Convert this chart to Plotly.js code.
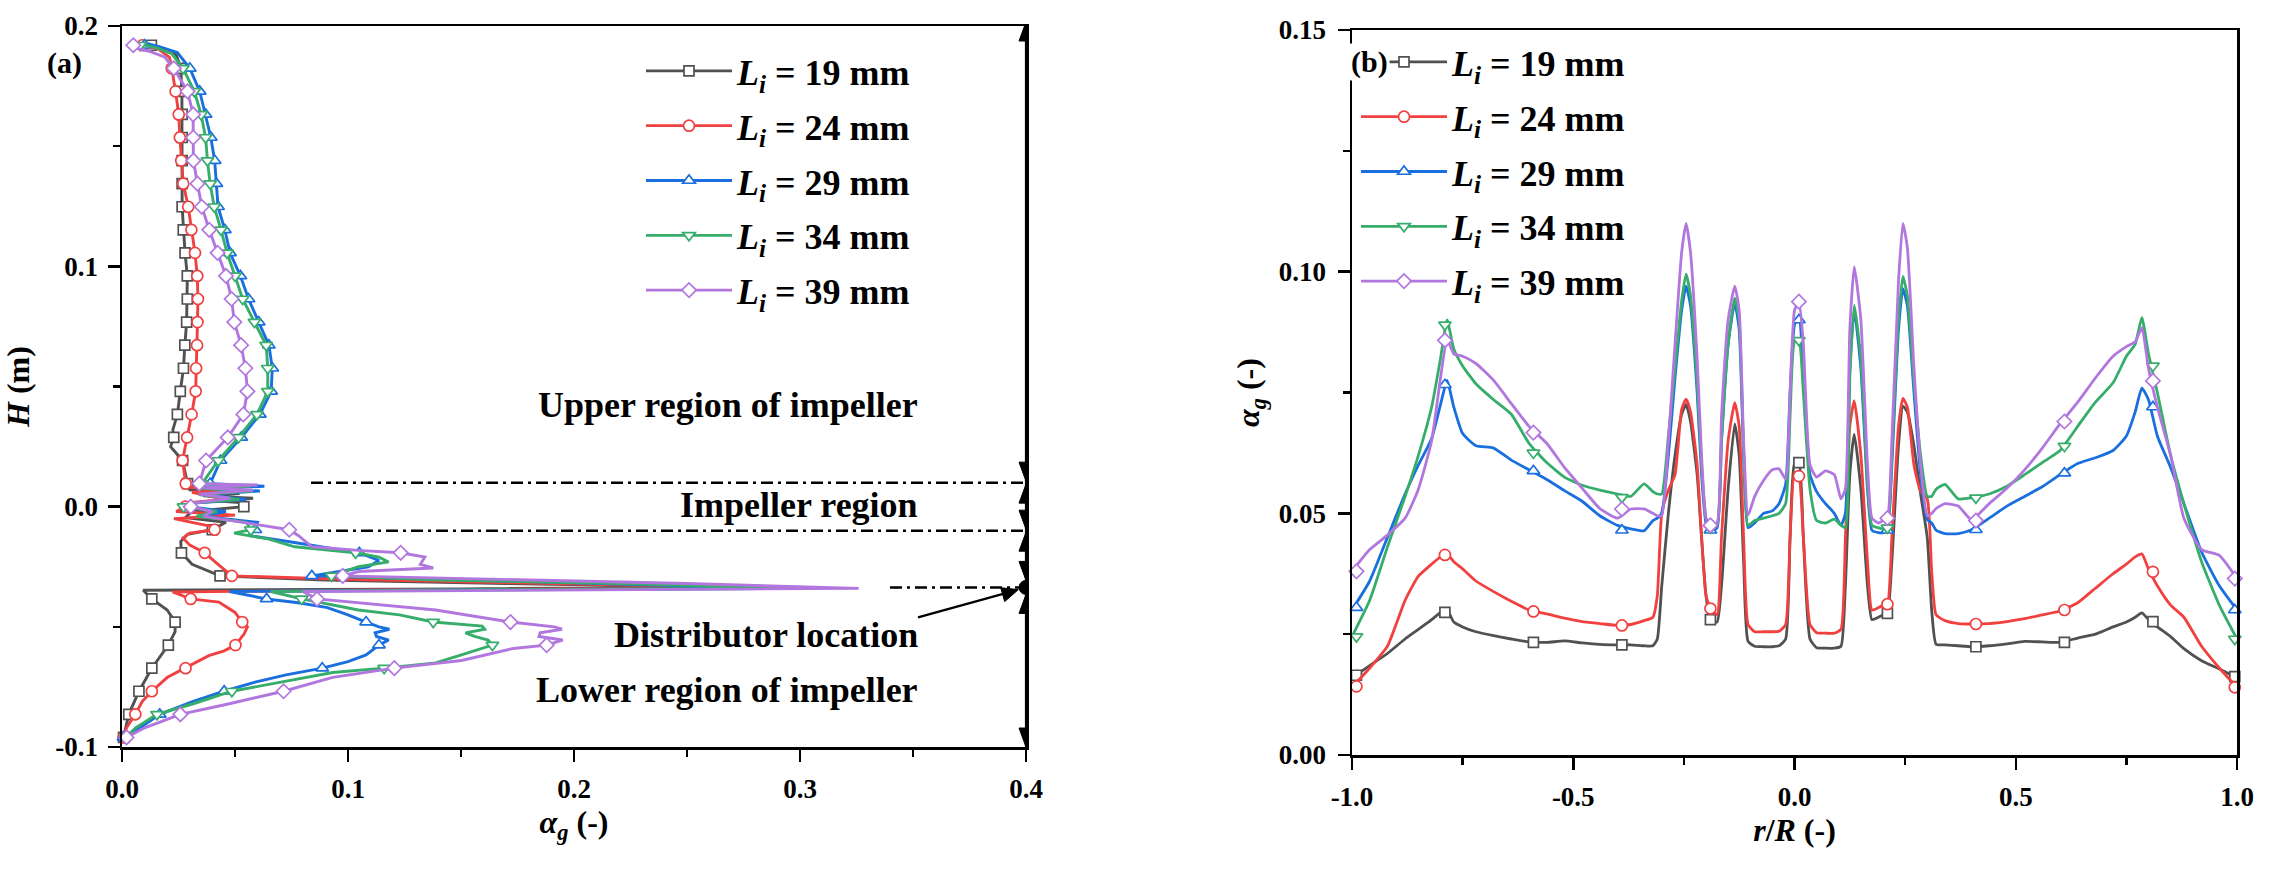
<!DOCTYPE html>
<html><head><meta charset="utf-8">
<script src="https://cdn.plot.ly/plotly-3.0.1.min.js"></script>
<style>html,body{margin:0;padding:0;background:#fff}#chart{width:2271px;height:872px}</style>
</head><body><div id="chart"></div>
<script>
// ---------- Panel (a): gas holdup profile along height ----------
const seriesNames = ['<i>L<sub>i</sub></i> = 19 mm','<i>L<sub>i</sub></i> = 24 mm','<i>L<sub>i</sub></i> = 29 mm','<i>L<sub>i</sub></i> = 34 mm','<i>L<sub>i</sub></i> = 39 mm'];

const H_grid = [0.192,0.1824,0.1728,0.1632,0.1536,0.144,0.1344,0.1248,0.1152,0.1056,0.096,0.0864,0.0768,0.0672,0.0576,0.048,0.0384,0.0288,0.0192,0.0096,0.0,-0.0096,-0.0192,-0.0288,-0.0384,-0.048,-0.0576,-0.0672,-0.0768,-0.0864,-0.096];

const a19_H = [0.192,0.1905,0.188,0.1824,0.1728,0.1632,0.1536,0.144,0.1344,0.1248,0.1152,0.1056,0.096,0.0864,0.0768,0.0672,0.0576,0.048,0.0384,0.032,0.0288,0.025,0.0192,0.0096,0.007,0.0055,0.0045,0.0035,0.0025,0.0015,0.0,-0.002,-0.0045,-0.0065,-0.0096,-0.0115,-0.0145,-0.0192,-0.024,-0.0288,-0.0305,-0.032,-0.0335,-0.0342,-0.0348,-0.0384,-0.043,-0.048,-0.052,-0.0576,-0.062,-0.0672,-0.0768,-0.0864,-0.096];
const a19_A = [0.013,0.019,0.024,0.026,0.0265,0.0266,0.0266,0.0266,0.0266,0.0266,0.0271,0.0279,0.0289,0.0289,0.0286,0.0278,0.0272,0.0258,0.0245,0.0225,0.0229,0.0215,0.0268,0.029,0.030,0.052,0.036,0.058,0.040,0.055,0.0539,0.031,0.028,0.046,0.040,0.029,0.026,0.0263,0.031,0.0434,0.09,0.17,0.27,0.15,0.0094,0.0132,0.020,0.0235,0.0235,0.0205,0.017,0.0132,0.0075,0.003,0.0007];

const a24_H = [0.192,0.1905,0.187,0.1824,0.1728,0.1632,0.1536,0.144,0.1344,0.1248,0.1152,0.1056,0.096,0.0864,0.0768,0.0672,0.0576,0.048,0.0384,0.0288,0.0192,0.0096,0.008,0.0072,0.006,0.003,0.0015,0.0,-0.002,-0.0035,-0.005,-0.0085,-0.0096,-0.011,-0.013,-0.016,-0.0192,-0.024,-0.0288,-0.030,-0.032,-0.0338,-0.0346,-0.0355,-0.0384,-0.0397,-0.044,-0.048,-0.050,-0.053,-0.0576,-0.060,-0.062,-0.0672,-0.071,-0.0768,-0.081,-0.0864,-0.092,-0.096];
const a24_A = [0.009,0.016,0.021,0.022,0.0237,0.0251,0.0256,0.0262,0.0271,0.0293,0.0307,0.0323,0.0333,0.0336,0.0334,0.0332,0.0328,0.0326,0.0308,0.0288,0.0268,0.0282,0.030,0.050,0.031,0.045,0.028,0.028,0.024,0.050,0.023,0.041,0.041,0.030,0.027,0.030,0.0366,0.0425,0.0486,0.09,0.19,0.28,0.12,0.0224,0.0304,0.0429,0.050,0.0532,0.0555,0.054,0.0502,0.0452,0.0384,0.0281,0.0201,0.0132,0.009,0.0059,0.002,0.0007];

const a29_H = [0.193,0.1915,0.189,0.1824,0.1728,0.1632,0.1536,0.144,0.1344,0.1248,0.1152,0.1056,0.096,0.0864,0.0768,0.0672,0.0576,0.048,0.0384,0.0288,0.0192,0.0096,0.0085,0.0075,0.0065,0.005,0.003,0.0015,0.0,-0.002,-0.004,-0.0065,-0.0096,-0.012,-0.015,-0.0192,-0.0224,-0.025,-0.0288,-0.030,-0.032,-0.034,-0.0346,-0.0353,-0.0384,-0.040,-0.042,-0.045,-0.048,-0.050,-0.051,-0.0525,-0.054,-0.0555,-0.0576,-0.0617,-0.0645,-0.0672,-0.070,-0.073,-0.0768,-0.081,-0.0864,-0.093,-0.096];
const a29_A = [0.010,0.016,0.0245,0.030,0.0344,0.037,0.0393,0.041,0.0418,0.0425,0.0455,0.0478,0.0524,0.056,0.0605,0.065,0.0665,0.066,0.061,0.0528,0.0436,0.039,0.063,0.038,0.061,0.035,0.055,0.032,0.030,0.046,0.035,0.060,0.059,0.056,0.077,0.105,0.1137,0.109,0.084,0.13,0.21,0.29,0.15,0.0475,0.064,0.078,0.0909,0.100,0.108,0.1137,0.1183,0.112,0.1126,0.118,0.1137,0.108,0.100,0.0886,0.0726,0.0589,0.0452,0.0315,0.0167,0.0064,0.0007];

const a34_H = [0.1925,0.191,0.1885,0.1824,0.1728,0.1632,0.1536,0.144,0.1344,0.1248,0.1152,0.1056,0.096,0.0864,0.0768,0.0672,0.0576,0.048,0.0384,0.0288,0.0192,0.0096,0.0085,0.0075,0.0065,0.005,0.003,0.0015,0.0,-0.002,-0.004,-0.0065,-0.0096,-0.011,-0.0135,-0.0167,-0.0192,-0.021,-0.023,-0.025,-0.0288,-0.0305,-0.032,-0.034,-0.0346,-0.0353,-0.0384,-0.043,-0.045,-0.048,-0.0497,-0.051,-0.0525,-0.054,-0.0555,-0.0576,-0.0617,-0.065,-0.0672,-0.069,-0.073,-0.0768,-0.082,-0.0864,-0.092,-0.096];
const a34_A = [0.008,0.015,0.022,0.027,0.032,0.035,0.037,0.0378,0.039,0.0408,0.0438,0.0465,0.050,0.0534,0.0586,0.0638,0.0645,0.0645,0.0597,0.0516,0.0426,0.0354,0.057,0.036,0.058,0.034,0.052,0.030,0.0272,0.042,0.033,0.055,0.057,0.0496,0.065,0.0764,0.1034,0.1137,0.118,0.1046,0.0927,0.14,0.22,0.30,0.16,0.0658,0.0795,0.1046,0.1228,0.1377,0.1594,0.1605,0.152,0.156,0.162,0.1639,0.1502,0.1388,0.116,0.0932,0.0703,0.0486,0.0315,0.0155,0.006,0.0018];

const a39_H = [0.191,0.1895,0.187,0.1824,0.1728,0.1632,0.1536,0.144,0.1344,0.1248,0.1152,0.1056,0.096,0.0864,0.0768,0.0672,0.0576,0.048,0.0384,0.0288,0.0192,0.0096,0.009,0.0078,0.0068,0.0052,0.0035,0.0015,0.0,-0.002,-0.004,-0.006,-0.0096,-0.012,-0.0167,-0.0183,-0.0192,-0.021,-0.024,-0.0255,-0.027,-0.0288,-0.030,-0.031,-0.032,-0.034,-0.0346,-0.0353,-0.0384,-0.0404,-0.043,-0.048,-0.050,-0.051,-0.0525,-0.054,-0.0555,-0.0576,-0.059,-0.064,-0.0672,-0.071,-0.0768,-0.082,-0.0864,-0.092,-0.096];
const a39_A = [0.005,0.012,0.019,0.0229,0.029,0.0315,0.0315,0.0316,0.0334,0.0353,0.0386,0.0423,0.046,0.0485,0.0497,0.0527,0.0546,0.0555,0.0537,0.0468,0.0372,0.0342,0.060,0.036,0.058,0.034,0.048,0.032,0.0304,0.040,0.036,0.050,0.074,0.078,0.084,0.106,0.1233,0.134,0.132,0.1377,0.1046,0.0977,0.155,0.19,0.25,0.326,0.20,0.080,0.0863,0.1091,0.1388,0.1719,0.1913,0.1947,0.185,0.1845,0.195,0.1879,0.1731,0.1502,0.1205,0.0932,0.0715,0.0475,0.0258,0.010,0.002];

// values at the symbol positions (H_grid)
const a19_mk = [0.013,0.026,0.0265,0.0266,0.0266,0.0266,0.0266,0.0266,0.0271,0.0279,0.0289,0.0289,0.0286,0.0278,0.0272,0.0258,0.0245,0.0229,0.0268,0.029,0.0539,0.040,0.0263,0.0434,0.0132,0.0235,0.0205,0.0132,0.0075,0.003,0.0007];
const a24_mk = [0.009,0.022,0.0237,0.0251,0.0256,0.0262,0.0271,0.0293,0.0307,0.0323,0.0333,0.0336,0.0334,0.0332,0.0328,0.0326,0.0308,0.0288,0.0268,0.0282,0.028,0.041,0.0366,0.0486,0.0304,0.0532,0.0502,0.0281,0.0132,0.0059,0.0007];
const a29_mk = [0.010,0.030,0.0344,0.037,0.0393,0.041,0.0418,0.0425,0.0455,0.0478,0.0524,0.056,0.0605,0.065,0.0665,0.066,0.061,0.0528,0.0436,0.039,0.030,0.059,0.105,0.084,0.064,0.108,0.1137,0.0886,0.0452,0.0167,0.0007];
const a34_mk = [0.008,0.027,0.032,0.035,0.037,0.0378,0.039,0.0408,0.0438,0.0465,0.050,0.0534,0.0586,0.0638,0.0645,0.0645,0.0597,0.0516,0.0426,0.0354,0.0272,0.057,0.1034,0.0927,0.0795,0.1377,0.1639,0.116,0.0486,0.0155,0.0018];
const a39_mk = [0.005,0.0229,0.029,0.0315,0.0315,0.0316,0.0334,0.0353,0.0386,0.0423,0.046,0.0485,0.0497,0.0527,0.0546,0.0555,0.0537,0.0468,0.0372,0.0342,0.0304,0.074,0.1233,0.0977,0.0863,0.1719,0.1879,0.1205,0.0715,0.0258,0.002];

// region boundaries (H) used by the annotations
const regionH = [0.2, 0.01, -0.01, -0.0336, -0.1];
const regionLabels = ['Upper region of impeller','Impeller region','Distributor location','Lower region of impeller'];

// ---------- Panel (b): radial gas holdup ----------
const rR = [-1.0,-0.96,-0.92,-0.88,-0.85,-0.82,-0.80,-0.785,-0.77,-0.75,-0.72,-0.68,-0.64,-0.60,-0.56,-0.52,-0.48,-0.44,-0.40,-0.37,-0.34,-0.32,-0.31,-0.30,-0.285,-0.27,-0.255,-0.245,-0.235,-0.22,-0.21,-0.20,-0.19,-0.175,-0.165,-0.15,-0.135,-0.125,-0.115,-0.105,-0.09,-0.07,-0.05,-0.035,-0.02,-0.01,0.0,0.01,0.02,0.035,0.05,0.07,0.09,0.105,0.115,0.125,0.135,0.15,0.165,0.175,0.19,0.20,0.21,0.22,0.235,0.245,0.255,0.27,0.285,0.30,0.31,0.32,0.34,0.37,0.40,0.44,0.48,0.52,0.56,0.60,0.64,0.68,0.72,0.75,0.77,0.785,0.80,0.82,0.85,0.88,0.92,0.96,1.0];
const b19 = [0.016,0.0185,0.021,0.024,0.026,0.028,0.0295,0.0300,0.0275,0.0265,0.0255,0.0247,0.024,0.0234,0.0233,0.0236,0.0232,0.0229,0.0228,0.0228,0.0226,0.0226,0.024,0.035,0.05,0.062,0.0705,0.0725,0.069,0.058,0.045,0.033,0.028,0.0275,0.035,0.055,0.0685,0.062,0.04,0.0235,0.0225,0.0224,0.0224,0.0226,0.024,0.045,0.0603,0.0605,0.045,0.024,0.0222,0.0221,0.0221,0.0225,0.035,0.058,0.0664,0.055,0.035,0.028,0.0285,0.029,0.0293,0.04,0.064,0.0722,0.071,0.064,0.054,0.045,0.03,0.0229,0.0228,0.0226,0.0224,0.0226,0.0230,0.0235,0.0234,0.0233,0.0242,0.025,0.0265,0.0275,0.0285,0.0294,0.028,0.0265,0.0245,0.022,0.0195,0.0178,0.016];
const b24 = [0.014,0.018,0.0225,0.032,0.037,0.0395,0.041,0.0416,0.040,0.0385,0.036,0.0338,0.0318,0.030,0.0292,0.0283,0.0276,0.0272,0.0268,0.027,0.0278,0.0285,0.033,0.05,0.0548,0.058,0.0715,0.0736,0.071,0.06,0.045,0.033,0.0303,0.029,0.045,0.065,0.0729,0.068,0.045,0.027,0.0255,0.0255,0.0255,0.0256,0.027,0.045,0.0585,0.0578,0.045,0.027,0.0253,0.0252,0.0252,0.026,0.045,0.068,0.0733,0.062,0.04,0.03,0.0305,0.031,0.0312,0.045,0.068,0.0738,0.072,0.06,0.0545,0.053,0.038,0.029,0.0278,0.0272,0.0271,0.0272,0.0276,0.0282,0.029,0.0298,0.0315,0.0345,0.0375,0.0395,0.041,0.0416,0.0385,0.035,0.031,0.0285,0.0225,0.018,0.014];
const b29 = [0.030,0.036,0.045,0.054,0.060,0.0655,0.0725,0.0775,0.072,0.0665,0.064,0.0635,0.061,0.059,0.057,0.0547,0.0525,0.0495,0.0475,0.0468,0.0464,0.0485,0.049,0.050,0.062,0.078,0.092,0.097,0.093,0.075,0.058,0.048,0.0465,0.047,0.065,0.085,0.0935,0.088,0.062,0.047,0.048,0.050,0.0505,0.052,0.056,0.075,0.089,0.0905,0.08,0.058,0.0545,0.052,0.050,0.0475,0.05,0.08,0.092,0.08,0.055,0.0465,0.046,0.046,0.0465,0.06,0.088,0.0965,0.093,0.075,0.058,0.0487,0.048,0.0465,0.0458,0.0458,0.0466,0.049,0.0515,0.0535,0.0555,0.058,0.0603,0.0615,0.063,0.066,0.071,0.0759,0.0735,0.066,0.0595,0.052,0.042,0.035,0.030];
const b34 = [0.0245,0.032,0.043,0.0535,0.062,0.072,0.082,0.090,0.084,0.0805,0.0768,0.0735,0.0705,0.0645,0.0605,0.0575,0.0558,0.0548,0.054,0.0535,0.0561,0.0545,0.054,0.054,0.066,0.08,0.094,0.0995,0.095,0.077,0.06,0.049,0.047,0.0475,0.065,0.085,0.0945,0.09,0.063,0.0475,0.0485,0.049,0.0495,0.050,0.052,0.07,0.0855,0.0858,0.075,0.055,0.0485,0.048,0.0488,0.0475,0.047,0.078,0.093,0.082,0.056,0.0475,0.047,0.0468,0.047,0.062,0.09,0.099,0.095,0.077,0.062,0.0535,0.0535,0.055,0.056,0.053,0.0532,0.054,0.0556,0.058,0.0605,0.063,0.068,0.073,0.077,0.0825,0.085,0.0905,0.083,0.075,0.062,0.052,0.040,0.031,0.024];
const b39 = [0.038,0.0425,0.0455,0.049,0.055,0.065,0.078,0.086,0.083,0.0825,0.081,0.0775,0.0727,0.068,0.0645,0.0595,0.0552,0.051,0.049,0.0509,0.0509,0.050,0.0495,0.0495,0.065,0.085,0.104,0.110,0.104,0.082,0.062,0.049,0.0475,0.048,0.07,0.09,0.097,0.092,0.065,0.0496,0.0535,0.0568,0.059,0.0592,0.0571,0.075,0.092,0.0938,0.085,0.06,0.0575,0.0588,0.058,0.053,0.055,0.088,0.101,0.09,0.06,0.049,0.048,0.0485,0.049,0.065,0.098,0.110,0.105,0.08,0.06,0.0495,0.050,0.051,0.052,0.0515,0.0487,0.052,0.0552,0.059,0.0635,0.0685,0.073,0.078,0.0825,0.0845,0.0855,0.0884,0.080,0.072,0.062,0.049,0.0425,0.0413,0.0365];

const rMk = [-0.99,-0.79,-0.59,-0.39,-0.19,0.01,0.21,0.41,0.61,0.81,0.995];
const b19_mk = [0.0165,0.0295,0.0233,0.0228,0.0280,0.0605,0.0293,0.0224,0.0233,0.0276,0.0162];
const b24_mk = [0.0142,0.0414,0.0297,0.0268,0.0303,0.0577,0.0312,0.0271,0.0300,0.0379,0.0140];
const b29_mk = [0.0305,0.0766,0.0588,0.0465,0.0465,0.0900,0.0465,0.0466,0.0583,0.0720,0.0300];
const b34_mk = [0.0245,0.0890,0.0625,0.0533,0.0470,0.0858,0.0470,0.0532,0.0639,0.0805,0.0240];
const b39_mk = [0.0380,0.0858,0.0667,0.0509,0.0475,0.0938,0.0490,0.0485,0.0690,0.0774,0.0365];

// tick labels
const tickA_vals = [0,0.1,0.2,0.3,0.4], tickA_text = ['0.0','0.1','0.2','0.3','0.4'];
const tickH_vals = [-0.1,0,0.1,0.2], tickH_text = ['-0.1','0.0','0.1','0.2'];
const tickR_vals = [-1,-0.5,0,0.5,1], tickR_text = ['-1.0','-0.5','0.0','0.5','1.0'];
const tickG_vals = [0,0.05,0.1,0.15], tickG_text = ['0.00','0.05','0.10','0.15'];

// ---------- styles ----------
const W = 2271, Hpx = 872;
const FONT = '"Liberation Serif", "Times New Roman", serif';
const colors = ['#515151','#F14040','#1A6FDF','#37AD6B','#B177DE'];
const symbols = ['square','circle','triangle-up','triangle-down','diamond'];
const msize = [10,11,11,11,11];

const aLines = [[a19_A,a19_H],[a24_A,a24_H],[a29_A,a29_H],[a34_A,a34_H],[a39_A,a39_H]];
const aMarks = [a19_mk,a24_mk,a29_mk,a34_mk,a39_mk];
const bLines = [b19,b24,b29,b34,b39];
const bMarks = [b19_mk,b24_mk,b29_mk,b34_mk,b39_mk];

function mk(i){ return {symbol: symbols[i], size: msize[i], color:'#ffffff', line:{color: colors[i], width:1.7}}; }

const traces = [];
for (let i=0;i<5;i++){
  traces.push({type:'scatter', mode:'lines', x:aLines[i][0], y:aLines[i][1], xaxis:'x', yaxis:'y',
    line:{color:colors[i], width:2.9}, showlegend:false, hoverinfo:'skip'});
  traces.push({type:'scatter', mode:'markers', x:aMarks[i], y:H_grid, xaxis:'x', yaxis:'y',
    marker:mk(i), showlegend:false, hoverinfo:'skip', cliponaxis:false});
}
for (let i=0;i<5;i++){
  traces.push({type:'scatter', mode:'lines', x:rR, y:bLines[i], xaxis:'x2', yaxis:'y2',
    line:{color:colors[i], width:2.8, shape:'spline', smoothing:0.5}, showlegend:false, hoverinfo:'skip'});
  traces.push({type:'scatter', mode:'markers', x:rMk, y:bMarks[i], xaxis:'x2', yaxis:'y2',
    marker:mk(i), showlegend:false, hoverinfo:'skip', cliponaxis:false});
}
// legend entries
for (let i=0;i<5;i++){
  traces.push({type:'scatter', mode:'lines+markers', x:[null], y:[null], xaxis:'x', yaxis:'y',
    name:seriesNames[i], legend:'legend', legendgroup:'a'+i, line:{color:colors[i], width:2.8}, marker:mk(i)});
}
for (let i=0;i<5;i++){
  traces.push({type:'scatter', mode:'lines+markers', x:[null], y:[null], xaxis:'x2', yaxis:'y2',
    name:seriesNames[i], legend:'legend2', legendgroup:'b'+i, line:{color:colors[i], width:2.8}, marker:mk(i)});
}

// geometry (px -> paper)
const px = v => v / W;
const py = v => 1 - v / Hpx;
const axL = {x0:122, x1:1026, top:26, bot:747};
const axR = {x0:1352, x1:2237, top:30, bot:755};

const tickFont = {family:FONT, size:27, color:'#000', weight:700};
const titleFont = {family:FONT, size:32, color:'#000', weight:700};
const txtFont = {family:FONT, size:36, color:'#000', weight:700};

function axisBase(extra){
  return Object.assign({
    showline:true, mirror:true, linecolor:'#000', linewidth:2.5,
    ticks:'outside', ticklen:12, tickwidth:2.5, tickcolor:'#000',
    tickmode:'array', tickfont:tickFont, showgrid:false, zeroline:false,
    automargin:false, fixedrange:true
  }, extra);
}
const minorA = (d) => ({tickmode:'linear', tick0:0, dtick:d, ticks:'outside', ticklen:7, tickwidth:2.5, tickcolor:'#000'});

const layout = {
  width:W, height:Hpx, margin:{l:0,r:0,t:0,b:0},
  paper_bgcolor:'#fff', plot_bgcolor:'#fff', showlegend:true,
  xaxis: axisBase({domain:[px(axL.x0), px(axL.x1)], range:[0,0.4], anchor:'y',
    tickvals:tickA_vals, ticktext:tickA_text, ticklabelstandoff:4, minor:minorA(0.05),
    title:{text:'<i>α<sub>g</sub></i> (-)', font:titleFont, standoff:8}}),
  yaxis: axisBase({domain:[py(axL.bot), py(axL.top)], range:[-0.1,0.2], anchor:'x',
    tickvals:tickH_vals, ticktext:tickH_text, ticklabelstandoff:4, minor:minorA(0.05),
    title:{text:'<i>H</i> (m)', font:titleFont, standoff:16}}),
  xaxis2: axisBase({domain:[px(axR.x0), px(axR.x1)], range:[-1,1], anchor:'y2',
    tickvals:tickR_vals, ticktext:tickR_text, ticklabelstandoff:4, minor:minorA(0.25),
    title:{text:'<i>r</i>/<i>R</i> (-)', font:titleFont, standoff:8}}),
  yaxis2: axisBase({domain:[py(axR.bot), py(axR.top)], range:[0,0.15], anchor:'x2',
    tickvals:tickG_vals, ticktext:tickG_text, ticklabelstandoff:6, minor:minorA(0.025),
    title:{text:'<i>α<sub>g</sub></i> (-)', font:titleFont, standoff:10}}),
  legend: {x:px(641), y:py(41), xanchor:'left', yanchor:'top', bgcolor:'rgba(0,0,0,0)', borderwidth:0,
    font:txtFont, itemwidth:86, tracegroupgap:5, traceorder:'grouped', itemclick:false, itemdoubleclick:false},
  legend2: {x:px(1356), y:py(32), xanchor:'left', yanchor:'top', bgcolor:'rgba(0,0,0,0)', borderwidth:0,
    font:txtFont, itemwidth:86, tracegroupgap:5, traceorder:'grouped', itemclick:false, itemdoubleclick:false},
  shapes: [], annotations: []
};

// dash-dot region boundaries
const dashPat = '12px,5px,3px,5px';
const boundStart = [311, 311, 890];
for (let k=0;k<3;k++){
  layout.shapes.push({type:'line', xref:'paper', yref:'y', x0:px(boundStart[k]), x1:px(axL.x1), y0:regionH[k+1], y1:regionH[k+1],
    line:{color:'#000', width:2.5, dash:dashPat}});
}
// distributor dot
layout.shapes.push({type:'circle', xref:'x', yref:'y', xsizemode:'pixel', ysizemode:'pixel', xanchor:0.4, yanchor:regionH[3],
  x0:-7, x1:7, y0:-7, y1:7, fillcolor:'#000', line:{color:'#000', width:1}});

// double-headed arrows along the right edge of panel (a)
const gapPx = [-4, 1.5, 1.5, 7, 0];   // tip offset at each boundary
for (let k=0;k<4;k++){
  layout.shapes.push({type:'line', xref:'x', yref:'y', x0:0.4, x1:0.4, y0:regionH[k], y1:regionH[k+1], line:{color:'#000', width:2.2}});
  const gu = gapPx[k], gd = gapPx[k+1];
  layout.shapes.push({type:'path', xref:'x', yref:'y', xsizemode:'pixel', ysizemode:'pixel', xanchor:0.4, yanchor:regionH[k],
    path:`M0,${-gu} L-7,${-gu-19} L7,${-gu-19} Z`, fillcolor:'#000', line:{color:'#000', width:1}});
  layout.shapes.push({type:'path', xref:'x', yref:'y', xsizemode:'pixel', ysizemode:'pixel', xanchor:0.4, yanchor:regionH[k+1],
    path:`M0,${gd} L-7,${gd+19} L7,${gd+19} Z`, fillcolor:'#000', line:{color:'#000', width:1}});
}
// arrow from "Distributor location" to the dot
layout.shapes.push({type:'path', xref:'x', yref:'y', xsizemode:'pixel', ysizemode:'pixel', xanchor:0.4, yanchor:regionH[3],
  path:'M-108,-30 L-22,-6.2', line:{color:'#000', width:2.2}});
layout.shapes.push({type:'path', xref:'x', yref:'y', xsizemode:'pixel', ysizemode:'pixel', xanchor:0.4, yanchor:regionH[3],
  path:'M-7.7,-2.2 L-25.3,-0.3 L-21.3,-14.2 Z', fillcolor:'#000', line:{color:'#000', width:1}});

const labelY = [405, 505, 635, 690];
for (let k=0;k<4;k++){
  layout.annotations.push({xref:'paper', yref:'paper', x:px(920), y:py(labelY[k]), xanchor:'right', yanchor:'middle',
    text:regionLabels[k], showarrow:false, font:txtFont});
}
layout.annotations.push({xref:'paper', yref:'paper', x:px(64), y:py(63), xanchor:'center', yanchor:'middle', text:'(a)', showarrow:false, font:{family:FONT, size:30, color:'#000', weight:700}});
layout.annotations.push({xref:'paper', yref:'paper', x:px(1369), y:py(62), xanchor:'center', yanchor:'middle', text:'(b)', showarrow:false, bgcolor:'#fff', font:{family:FONT, size:30, color:'#000', weight:700}});

Plotly.newPlot('chart', traces, layout, {displayModeBar:false, staticPlot:true});
</script></body></html>
